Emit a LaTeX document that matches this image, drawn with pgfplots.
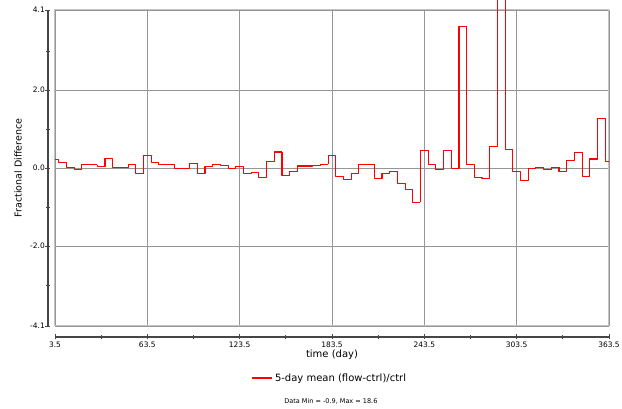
\documentclass[border=0pt]{standalone}
\usepackage{pgfplots}
\pgfplotsset{compat=1.18}
\usepackage{fontspec}
\setmainfont{DejaVu Sans}
\definecolor{gridc}{RGB}{150,150,150}
\definecolor{framec}{RGB}{195,195,195}
\definecolor{axc}{RGB}{70,70,70}
\definecolor{linered}{RGB}{255,0,0}
\pgfplotsset{steps/.style={linered, line width=1.1pt, line join=round, sharp plot, mark=none, forget plot}}
\begin{document}
\begin{tikzpicture}
\useasboundingbox (-55pt,-83pt) rectangle (567pt,326pt);
% main plot area
\begin{axis}[
  at={(0pt,0pt)}, anchor=south west,
  scale only axis, width=554pt, height=316pt,
  xmin=3.5, xmax=363.5, ymin=-4.05, ymax=4.05,
  xtick={3.5,63.5,123.5,183.5,243.5,303.5,363.5},
  ytick={-4.05,-2,0,2,4.05},
  xticklabels={}, yticklabels={},
  major tick length=0pt,
  grid=major,
  major grid style={gridc, line width=0.9pt},
  axis line style={framec, line width=1pt},
  clip=false,
  xlabel={\fontsize{10}{12}\selectfont time (day)},
  every axis x label/.style={at={(axis description cs:0.5,-0.0918)}, anchor=center},
  ylabel={\fontsize{9.5}{11}\selectfont Fractional Difference},
  every axis y label/.style={at={(axis description cs:-0.0668,0.5)}, anchor=center, rotate=90},
  legend style={at={(axis description cs:0.4964,-0.1646)}, anchor=center, draw=none, fill=none,
    font=\fontsize{10}{12}\selectfont, inner sep=1pt},
]
% 5-day means centred at 3.5, 8.5, ..., 363.5, drawn as steps (in pieces)
\addplot[steps] coordinates {(3.5,0.22) (6,0.22) (6,0.15) (11,0.15) (11,0.02) (16,0.02) (16,-0.03) (21,-0.03) (21,0.09) (26,0.09) (26,0.08) (31,0.08)};
\addplot[steps] coordinates {(31,0.08) (31,0.03) (36,0.03) (36,0.25) (41,0.25) (41,0.01) (46,0.01) (51,0.01) (51,0.08) (56,0.08) (56,-0.15) (61,-0.15)};
\addplot[steps] coordinates {(61,-0.15) (61,0.33) (66,0.33) (66,0.15) (71,0.15) (71,0.09) (76,0.09) (81,0.09) (81,-0.02) (86,-0.02) (91,-0.02)};
\addplot[steps] coordinates {(91,-0.02) (91,0.11) (96,0.11) (96,-0.14) (101,-0.14) (101,0.03) (106,0.03) (106,0.10) (111,0.10) (111,0.07) (116,0.07) (116,-0.01) (121,-0.01)};
\addplot[steps] coordinates {(121,-0.01) (121,0.03) (126,0.03) (126,-0.13) (131,-0.13) (131,-0.11) (136,-0.11) (136,-0.25) (141,-0.25) (141,0.16) (146,0.16) (146,0.41) (151,0.41)};
\addplot[steps] coordinates {(151,0.41) (151,-0.20) (156,-0.20) (156,-0.09) (161,-0.09) (161,0.05) (166,0.05) (171,0.05) (171,0.06) (176,0.06) (176,0.09) (181,0.09)};
\addplot[steps] coordinates {(181,0.09) (181,0.31) (186,0.31) (186,-0.22) (191,-0.22) (191,-0.29) (196,-0.29) (196,-0.13) (201,-0.13) (201,0.09) (206,0.09) (211,0.09)};
\addplot[steps] coordinates {(211,0.09) (211,-0.26) (216,-0.26) (216,-0.13) (221,-0.13) (221,-0.09) (226,-0.09) (226,-0.39) (231,-0.39) (231,-0.54) (236,-0.54) (236,-0.88) (241,-0.88)};
\addplot[steps] coordinates {(241,-0.88) (241,0.44) (246,0.44) (246,0.10) (251,0.10) (251,-0.05) (256,-0.05) (256,0.46) (261,0.46) (261,-0.01) (266,-0.01) (266,3.62) (271,3.62)};
\addplot[steps] coordinates {(271,3.62) (271,0.10) (276,0.10) (276,-0.25) (281,-0.25) (281,-0.28) (286,-0.28) (286,0.56) (291,0.56) (291,18.6) (296,18.6) (296,0.48) (301,0.48)};
\addplot[steps] coordinates {(301,0.48) (301,-0.09) (306,-0.09) (306,-0.33) (311,-0.33) (311,-0.01) (316,-0.01) (316,0.01) (321,0.01) (321,-0.03) (326,-0.03) (326,0.02) (331,0.02)};
\addplot[steps] coordinates {(331,0.02) (331,-0.08) (336,-0.08) (336,0.20) (341,0.20) (341,0.40) (346,0.40) (346,-0.22) (351,-0.22) (351,0.23) (356,0.23) (356,1.27) (361,1.27) (361,0.16) (363.5,0.16)};
\addlegendimage{linered, line width=1.1pt, legend image code/.code={\draw[linered, line width=1.1pt] (0pt,0pt) -- (20pt,0pt);}}
\addlegendentry{5-day mean (flow-ctrl)/ctrl}
\node[font=\fontsize{6.5}{8}\selectfont, anchor=center] at (axis description cs:0.498,-0.2373) {Data Min = -0.9, Max = 18.6};
\end{axis}
% detached x axis
\begin{axis}[
  at={(0pt,-11pt)}, anchor=south west,
  scale only axis, width=554pt, height=10pt,
  xmin=3.5, xmax=363.5, ymin=0, ymax=1,
  axis x line=bottom, axis y line=none,
  x axis line style={-, axc, line width=1.1pt},
  xtick={3.5,63.5,123.5,183.5,243.5,303.5,363.5},
  xticklabels={3.5,63.5,123.5,183.5,243.5,303.5,363.5},
  minor xtick={33.5,93.5,153.5,213.5,273.5,333.5},
  tick align=center,
  major tick length=5pt, minor tick length=4pt,
  every tick/.style={axc, line width=0.8pt},
  xticklabel style={font=\fontsize{7.5}{9}\selectfont, inner sep=1pt, yshift=-1pt},
  ytick=\empty,
]
\end{axis}
% detached y axis
\begin{axis}[
  at={(-7pt,0pt)}, anchor=south west,
  scale only axis, width=10pt, height=316pt,
  xmin=0, xmax=1, ymin=-4.05, ymax=4.05,
  axis y line=left, axis x line=none,
  y axis line style={-, axc, line width=1.1pt},
  ytick={-4.05,-2,0,2,4.05},
  yticklabels={-4.1,-2.0,0.0,2.0,4.1},
  minor ytick={-3,-1,1,3},
  tick align=center,
  major tick length=5pt, minor tick length=4pt,
  every tick/.style={axc, line width=0.8pt},
  yticklabel style={font=\fontsize{7.5}{9}\selectfont, inner sep=0.5pt},
  xtick=\empty,
]
\end{axis}
\end{tikzpicture}
\end{document}
